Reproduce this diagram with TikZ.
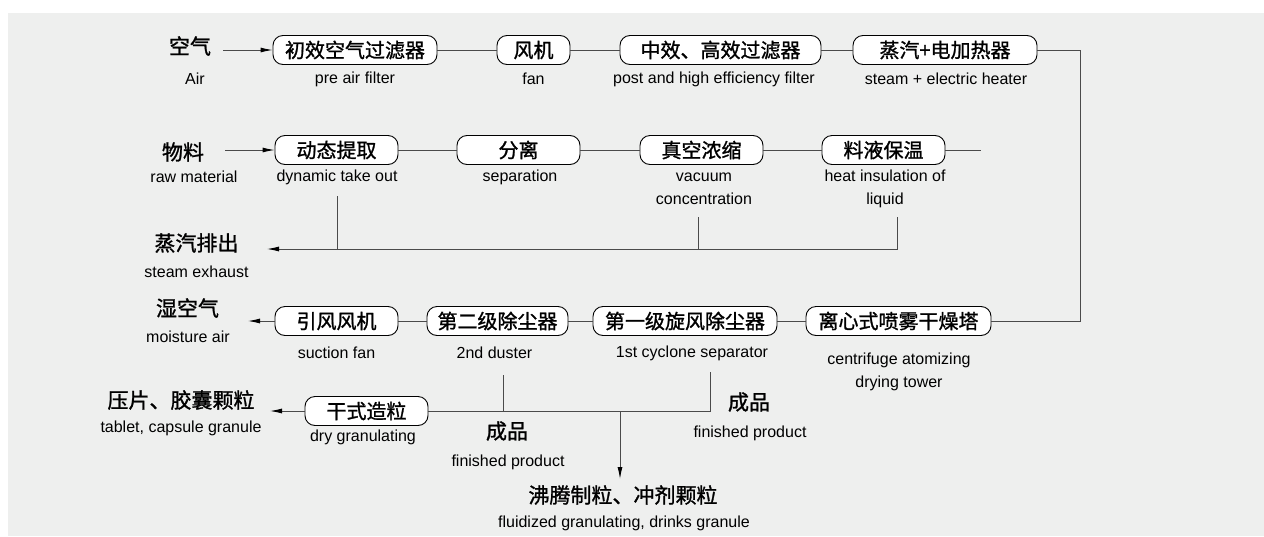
\documentclass[tikz,border=0pt]{standalone}
\usepackage{fontspec}
\setmainfont{Liberation Sans}
\newfontfamily\cjk{Noto Sans CJK SC}[FakeBold=1.2]
\usetikzlibrary{arrows.meta}
\definecolor{panel}{HTML}{EEEFEE}
\definecolor{linegray}{HTML}{4A4A4A}

\tikzset{
  unit/.style={draw=black, line width=0.9pt, rounded corners=10pt, fill=white,
    minimum height=29pt, inner xsep=10pt, inner ysep=0pt,
    font=\cjk\fontsize{20}{20}\selectfont},
  cnlabel/.style={font=\cjk\fontsize{21}{21}\selectfont, inner sep=1pt},
  enlabel/.style={font=\fontsize{16}{23}\selectfont, align=center, inner sep=1pt},
  flow/.style={draw=linegray, line width=0.9pt},
  flowarrow/.style={flow, -{Latex[length=12pt,width=5pt,color=black]}}
}

\begin{document}
\begin{tikzpicture}[x=1pt, y=-1pt]
\useasboundingbox (0,0) rectangle (1264,536);
\fill[panel] (8,13) rectangle (1264,536);

% air line
\node[cnlabel] (air) at (190,46) {空气};
\node[enlabel] (airEn) at (195,79) {Air};
\node[unit, minimum width=164pt] (prefilter) at (355,50) {初效空气过滤器};
\node[enlabel] (prefilterEn) at (355,79) {pre air filter};
\node[unit, minimum width=73pt] (fan) at (533.5,50) {风机};
\node[enlabel] (fanEn) at (533.5,79) {fan};
\node[unit, minimum width=201pt] (midfilter) at (720.5,50) {中效、高效过滤器};
\node[enlabel] (midfilterEn) at (714,79) {post and high efficiency filter};
\node[unit, minimum width=184pt] (heater) at (945,50) {蒸汽+电加热器};
\node[enlabel] (heaterEn) at (946,79) {steam + electric heater};

% material line
\node[cnlabel] (material) at (183,152) {物料};
\node[enlabel] (materialEn) at (194,177) {raw material};
\node[unit, minimum width=123pt] (extract) at (336.5,150) {动态提取};
\node[enlabel] (extractEn) at (337,177) {dynamic take out};
\node[unit, minimum width=123pt] (separate) at (518.5,150) {分离};
\node[enlabel] (separateEn) at (520,177) {separation};
\node[unit, minimum width=123pt] (vacuum) at (701.5,150) {真空浓缩};
\node[enlabel] (vacuumEn) at (704,188.5) {vacuum\\concentration};
\node[unit, minimum width=123pt] (keep) at (883.5,150) {料液保温};
\node[enlabel] (keepEn) at (885,188.5) {heat insulation of\\liquid};
\node[cnlabel] (steamOut) at (196.5,243) {蒸汽排出};
\node[enlabel] (steamOutEn) at (196.5,272) {steam exhaust};

% drying line
\node[cnlabel] (wet) at (187.5,308) {湿空气};
\node[enlabel] (wetEn) at (188,337) {moisture air};
\node[unit, minimum width=123pt] (suction) at (336.5,321) {引风风机};
\node[enlabel] (suctionEn) at (336.5,353) {suction fan};
\node[unit, minimum width=141pt] (duster) at (497.5,321) {第二级除尘器};
\node[enlabel] (dusterEn) at (494.5,353) {2nd duster};
\node[unit, minimum width=184pt] (cyclone) at (685,321) {第一级旋风除尘器};
\node[enlabel] (cycloneEn) at (692,353) {1st cyclone separator};
\node[unit, minimum width=185pt] (tower) at (898.5,321) {离心式喷雾干燥塔};
\node[enlabel] (towerEn) at (899,371.5) {centrifuge atomizing\\drying tower};

% products
\node[unit, minimum width=123pt] (dry) at (366.5,411) {干式造粒};
\node[enlabel] (dryEn) at (363,437) {dry granulating};
\node[cnlabel] (tablet) at (181,400) {压片、胶囊颗粒};
\node[enlabel] (tabletEn) at (181,428) {tablet, capsule granule};
\node[cnlabel] (productA) at (507,431) {成品};
\node[enlabel] (productAEn) at (508,462) {finished product};
\node[cnlabel] (productB) at (749,402) {成品};
\node[enlabel] (productBEn) at (750,433) {finished product};
\node[cnlabel] (fluid) at (623,495) {沸腾制粒、冲剂颗粒};
\node[enlabel] (fluidEn) at (624,523) {fluidized granulating, drinks granule};

\coordinate (airTail) at (223,50);
\coordinate (materialTail) at (225,150);
\coordinate (keepEnd) at (981,150);
\coordinate (turn) at (1080,200);
\coordinate (ex1) at (337,196);
\coordinate (ex2) at (698,217);
\coordinate (ex3) at (897,217);
\coordinate (exTip) at (267,249);
\coordinate (wetTip) at (248,321);
\coordinate (d1) at (710,372);
\coordinate (d2) at (503,375);
\coordinate (dryTip) at (270,411);
\coordinate (split) at (620,411);
\coordinate (fluidTip) at (620,479);

\draw[flowarrow] (airTail) -- (prefilter);
\draw[flow] (prefilter) -- (fan);
\draw[flow] (fan) -- (midfilter);
\draw[flow] (midfilter) -- (heater);
\draw[flow] (heater.east) -| (turn) |- (tower.east);

\draw[flowarrow] (materialTail) -- (extract);
\draw[flow] (extract) -- (separate);
\draw[flow] (separate) -- (vacuum);
\draw[flow] (vacuum) -- (keep);
\draw[flow] (keep) -- (keepEnd);
\draw[flowarrow] (ex3) |- (exTip);
\draw[flow] (ex1) -- (ex1 |- exTip);
\draw[flow] (ex2) -- (ex2 |- exTip);

\draw[flow] (tower) -- (cyclone);
\draw[flow] (cyclone) -- (duster);
\draw[flow] (duster) -- (suction);
\draw[flowarrow] (suction) -- (wetTip);

\draw[flow] (d1) |- (dry.east);
\draw[flow] (d2) -- (d2 |- dry.east);
\draw[flowarrow] (dry.west) -- (dryTip);
\draw[flowarrow] (split) -- (fluidTip);
\end{tikzpicture}
\end{document}
